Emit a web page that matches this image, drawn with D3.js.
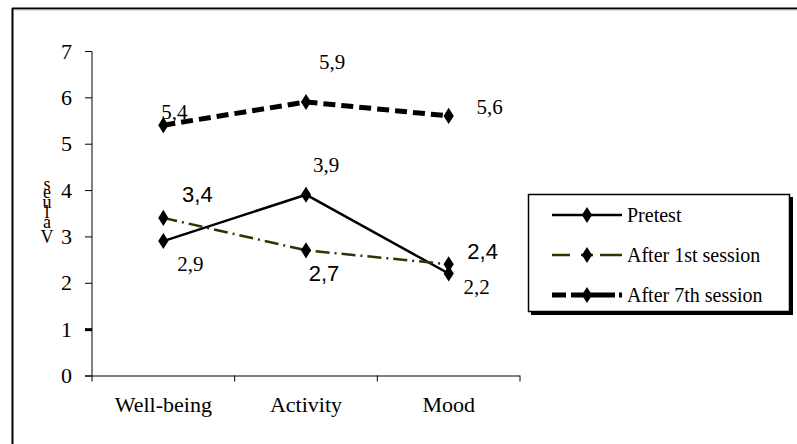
<!DOCTYPE html>
<html><head><meta charset="utf-8">
<script src="https://cdn.jsdelivr.net/npm/d3@7"></script>
<style>body{margin:0;background:#fff}svg{display:block}
.sf{font-family:"Liberation Serif","Times New Roman",Times,"DejaVu Serif",serif}
.ss{font-family:"Liberation Sans",Arial,Helvetica,sans-serif}
</style>
</head><body>
<svg id="c" width="797" height="444"></svg>
<script>
const categories = ["Well-being", "Activity", "Mood"];
const pretest = [2.9, 3.9, 2.2];
const after1st = [3.4, 2.7, 2.4];
const after7th = [5.4, 5.9, 5.6];
const seriesNames = ["Pretest", "After 1st session", "After 7th session"];
const yTicks = [0, 1, 2, 3, 4, 5, 6, 7];
const yTitle = "Values";

const series = [
  {name: seriesNames[0], values: pretest, color: "#000", width: 2.5, dash: null, legendDash: null,
   font: ["sf","sf","sf"], size: 21, off: [[27,30],[20,-23],[28,20]]},
  {name: seriesNames[1], values: after1st, color: "#333300", width: 2.5, dash: "14,5,2,5", legendDash: "18,11,12,7,22",
   font: ["ss","ss","ss"], size: 22, off: [[34,-16],[18,31],[34,-5]]},
  {name: seriesNames[2], values: after7th, color: "#000", width: 5, dash: "12,6", legendDash: "14,5,44,4,5",
   font: ["sf","sf","sf"], size: 21, off: [[11,-6],[26,-33],[41,-2]]}
];

const svg = d3.select("#c");
svg.append("line").attr("x1",12.5).attr("x2",12.5).attr("y1",8).attr("y2",444).attr("stroke","#000").attr("stroke-width",2);
svg.append("line").attr("x1",12).attr("x2",797).attr("y1",8.5).attr("y2",8.5).attr("stroke","#000").attr("stroke-width",2);
svg.append("line").attr("x1",14).attr("x2",797).attr("y1",10).attr("y2",10).attr("stroke","#bbb").attr("stroke-width",1);

const x0 = 92, x1 = 520, yTop = 51, yBot = 375.5;
const x = d3.scaleBand().domain(categories).range([x0, x1]).padding(0);
const y = d3.scaleLinear().domain([0, 7]).range([yBot, yTop]);

// y axis
const ya = svg.append("g").attr("transform",`translate(${x0},0)`)
  .call(d3.axisLeft(y).tickValues(yTicks).tickSize(7).tickPadding(13).tickFormat(d3.format("d")));
ya.attr("font-family",null).attr("font-size",null);
ya.select(".domain").attr("stroke","#000").attr("stroke-width",1).attr("d",`M-7,${yTop}.5H0V${yBot}`);
ya.selectAll(".tick line").attr("stroke","#000");
ya.selectAll(".tick").filter(d=>d===1).select("line").attr("stroke-width",3);
ya.selectAll(".tick text").attr("class","sf").style("font-size","22px").attr("fill","#000");

// x axis
const xa = svg.append("g").attr("transform",`translate(0,${yBot})`)
  .call(d3.axisBottom(x).tickSize(0).tickPadding(21));
xa.attr("font-family",null).attr("font-size",null);
xa.select(".domain").attr("stroke","#000").attr("d",`M${x0-7},0.5H${x1}`);
xa.selectAll(".tick text").attr("class","sf").style("font-size","22px").attr("fill","#000");
xa.selectAll(".sep").data(d3.range(categories.length+1)).enter().append("line")
  .attr("x1",i=>x0 + i*x.bandwidth()).attr("x2",i=>x0 + i*x.bandwidth())
  .attr("y1",0).attr("y2",6).attr("stroke","#000");

// y title (stacked letters, bottom to top)
const letters = yTitle.split("");
const baselines = [243, 228, 218, 208, 198, 190];
const yt = svg.append("text").attr("class","sf").style("font-size","18px").attr("text-anchor","middle").attr("fill","#000");
letters.forEach((ch,i)=>yt.append("tspan").attr("x",47).attr("y",baselines[i]).text(ch));

const cx = c => x(c) + x.bandwidth()/2;
const diamond = d3.symbol().type(d3.symbolDiamond).size(75);

series.forEach(s => {
  const line = d3.line().x((d,i)=>cx(categories[i])).y(d=>y(d));
  svg.append("path").datum(s.values).attr("d",line).attr("fill","none")
    .attr("stroke",s.color).attr("stroke-width",s.width)
    .attr("stroke-dasharray",s.dash).attr("stroke-linejoin","round");
  svg.selectAll(null).data(s.values).enter().append("path")
    .attr("d",diamond).attr("fill","#000")
    .attr("transform",(d,i)=>`translate(${cx(categories[i])},${y(d)}) scale(1.1,1)`);
  svg.selectAll(null).data(s.values).enter().append("text")
    .attr("x",(d,i)=>cx(categories[i]) + s.off[i][0])
    .attr("y",(d,i)=>y(d) + s.off[i][1])
    .attr("class",(d,i)=>s.font[i])
    .style("font-size",s.size+"px")
    .attr("text-anchor","middle").attr("fill","#000")
    .text(d=>String(d).replace(".",","));
});

// legend
const lg = svg.append("g");
lg.append("rect").attr("x",531).attr("y",197).attr("width",262).attr("height",118).attr("fill","#000");
lg.append("rect").attr("x",528.5).attr("y",194.5).attr("width",261).attr("height",117).attr("fill","#fff").attr("stroke","#000").attr("stroke-width",1.5);
const rowY = [215, 255, 295];
series.forEach((s,i)=>{
  lg.append("line").attr("x1",552).attr("x2",622).attr("y1",rowY[i]).attr("y2",rowY[i])
    .attr("stroke",s.color).attr("stroke-width",s.width).attr("stroke-dasharray",s.legendDash);
  lg.append("path").attr("d",diamond).attr("fill","#000").attr("transform",`translate(587,${rowY[i]}) scale(1.1,1)`);
  lg.append("text").attr("x",627).attr("y",rowY[i]+7).attr("class","sf").style("font-size","20px").attr("fill","#000").text(s.name);
});
</script>
</body></html>
